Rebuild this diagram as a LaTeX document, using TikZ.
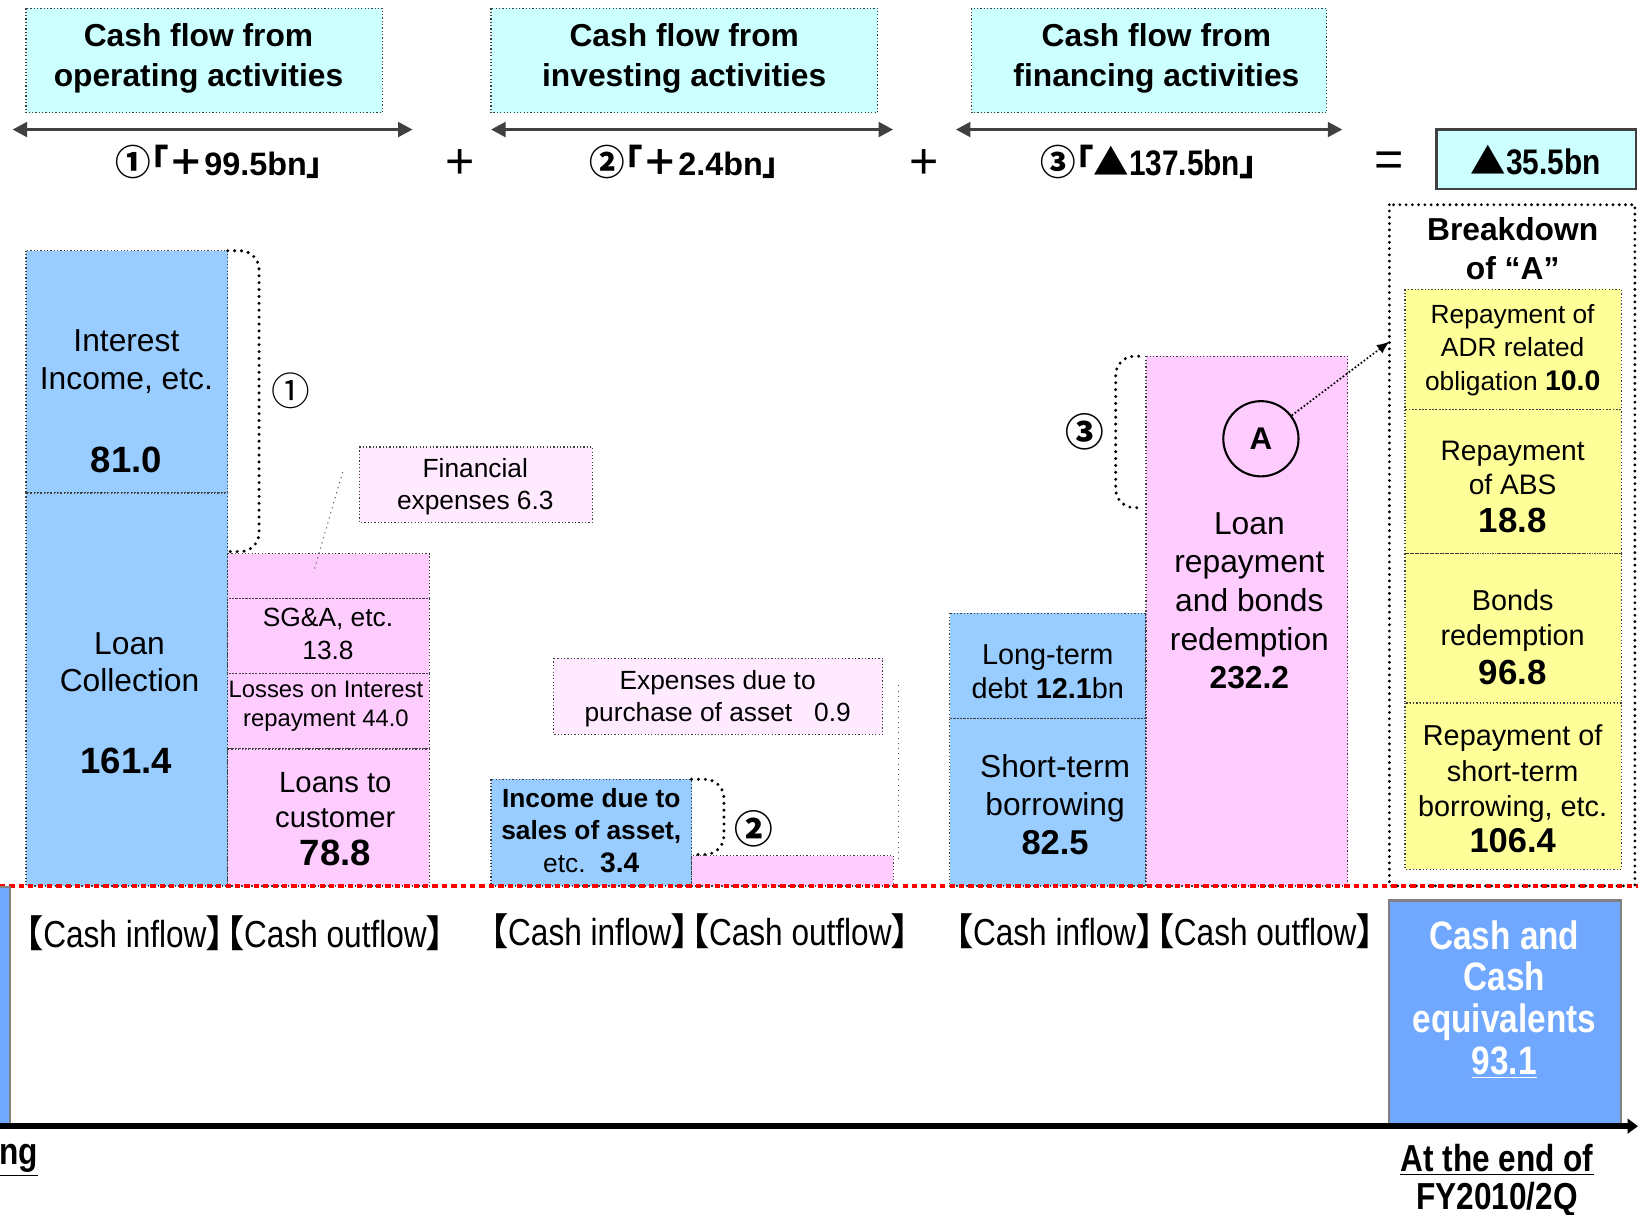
\documentclass[tikz,border=0pt]{standalone}
\usepackage{fontspec}
\setmainfont{Liberation Sans}
\newfontfamily\cjk{Noto Sans CJK JP}[RawFeature=+palt]
\newfontfamily\narrow{Liberation Sans}[FakeStretch=0.84]
\usetikzlibrary{arrows.meta}
\definecolor{hdrcyan}{RGB}{204,255,255}
\definecolor{inblue}{RGB}{153,204,255}
\definecolor{outpink}{RGB}{255,204,255}
\definecolor{notepink}{RGB}{255,234,255}
\definecolor{brkyellow}{RGB}{255,255,153}
\definecolor{cashblue}{RGB}{112,168,255}
\definecolor{arrgray}{RGB}{64,64,64}
\newcommand\fsz[2]{\fontsize{#1pt}{#2pt}\selectfont}

\begin{document}
\begin{tikzpicture}[x=0.5pt,y=-0.5pt,
  bar/.style={draw=black!75,densely dotted,line width=0.6pt},
  inbar/.style={bar,fill=inblue},
  outbar/.style={bar,fill=outpink},
  notebox/.style={bar,fill=notepink},
  hdrbox/.style={bar,fill=hdrcyan},
  brkbox/.style={bar,fill=brkyellow},
  txt/.style={align=center,inner sep=0pt},
  spanarrow/.style={draw=arrgray,line width=1.6pt,{Triangle[length=7pt,width=7pt]}-{Triangle[length=7pt,width=7pt]}},
  brace/.style={line width=1.6pt,dash pattern=on 0pt off 3.3pt,line cap=round,rounded corners=9pt},
  bigdots/.style={line width=1.5pt,dash pattern=on 0pt off 3pt,line cap=round},
  lead/.style={draw=black!70,dotted,line width=0.5pt}]
  \useasboundingbox (0,0) rectangle (1568,1163);

  \draw[hdrbox] (25,8) rectangle (366,108);
  \draw[hdrbox] (470,8) rectangle (840,108);
  \draw[hdrbox] (930,8) rectangle (1270,108);
  \node[txt,font=\bfseries\fsz{15.2}{19}] (hdrop) at (190,56) {Cash flow from\\operating activities};
  \node[txt,font=\bfseries\fsz{15.2}{19}] (hdrinv) at (655,56) {Cash flow from\\investing activities};
  \node[txt,font=\bfseries\fsz{15.2}{19}] (hdrfin) at (1107,56) {Cash flow from\\financing activities};

  \coordinate (op-l) at (12,124);   \coordinate (op-r) at (395,124);
  \coordinate (inv-l) at (470,124); \coordinate (inv-r) at (855,124);
  \coordinate (fin-l) at (915,124); \coordinate (fin-r) at (1285,124);
  \draw[spanarrow] (op-l) -- (op-r);
  \draw[spanarrow] (inv-l) -- (inv-r);
  \draw[spanarrow] (fin-l) -- (fin-r);

  \node[font=\bfseries\fsz{15.5}{18}] (cf1) at (210,155) {{\cjk\fsz{17}{18}①「＋}99.5bn{\cjk 」}};
  \node[font=\fsz{24}{26}] (plus1) at (440,157) {+};
  \node[font=\bfseries\fsz{15.5}{18}] (cf2) at (655,155) {{\cjk\fsz{17}{18}②「＋}2.4bn{\cjk 」}};
  \node[font=\fsz{24}{26}] (plus2) at (885,157) {+};
  \node[font=\narrow\bfseries\fsz{17}{19}] (cf3) at (1100,155) {{\cjk ③「▲}137.5bn{\cjk 」}};
  \node[font=\fsz{24}{26}] (eqsign) at (1330,157) {=};
  \draw[fill=hdrcyan,draw=arrgray,line width=1.2pt] (1375,124) rectangle (1566,181);
  \node[font=\narrow\bfseries\fsz{17}{19}] (netamt) at (1470,153) {{\cjk ▲}35.5bn};

  % operating
  \draw[inbar] (25,240) rectangle (218,472);
  \draw[inbar] (25,472) rectangle (218,848);
  \node[txt,font=\fsz{15.2}{18.5}] (intinc) at (121,346) {Interest\\Income, etc.};
  \node[txt,font=\bfseries\fsz{17.5}{20}] (intamt) at (121,440) {81.0};
  \node[txt,font=\fsz{15.2}{18}] (loancol) at (124,634) {Loan\\Collection};
  \node[txt,font=\bfseries\fsz{17.5}{20}] (loanamt) at (121,728) {161.4};
  \draw[outbar] (218,530) rectangle (411,573);
  \draw[outbar] (218,573) rectangle (411,645);
  \draw[outbar] (218,645) rectangle (411,717);
  \draw[outbar] (218,717) rectangle (411,848);
  \node[txt,font=\fsz{12.6}{15.5}] (sga) at (314,607) {SG\&A, etc.\\13.8};
  \node[txt,font=\fsz{11.4}{13.5}] (losses) at (312,676) {Losses on Interest\\repayment 44.0};
  \node[txt,font=\fsz{14}{17}] (loancust) at (321,784) {Loans to\\customer\\[1pt]{\bfseries\fsz{17.5}{19}78.8}};
  \draw[brace] (218,240) -- (248,240) -- (248,528) -- (218,528);
  \node[font=\fsz{18.5}{20}] (mark1) at (278,374) {\cjk ①};
  \draw[notebox] (344,428) rectangle (567,500);
  \node[txt,font=\fsz{12.6}{15.5}] (finexp) at (455,466) {Financial\\expenses 6.3};
  \coordinate (fe-a) at (328,452);
  \coordinate (fe-b) at (300,548);
  \draw[lead] (fe-a) -- (fe-b);

  % investing
  \draw[inbar] (470,746) rectangle (662,848);
  \node[txt,font=\fsz{12.6}{15.5}] (incsale) at (566,795) {{\bfseries Income due to}\\{\bfseries sales of asset,}\\etc.\ \ {\bfseries\fsz{13.5}{15.5}3.4}};
  \draw[outbar] (662,819) rectangle (855,848);
  \draw[brace] (662,746) -- (693,746) -- (693,818) -- (662,818);
  \node[font=\bfseries\fsz{18.5}{20}] (mark2) at (722,793) {\cjk ②};
  \draw[notebox] (530,630) rectangle (845,703);
  \node[txt,font=\fsz{12.6}{15.5}] (purexp) at (687,669) {Expenses due to\\purchase of asset\ \ \ 0.9};
  \coordinate (pe-a) at (860,656);
  \coordinate (pe-b) at (860,825);
  \draw[lead] (pe-a) -- (pe-b);

  % financing
  \draw[inbar] (909,587) rectangle (1097,688);
  \draw[inbar] (909,688) rectangle (1097,848);
  \draw[outbar] (1097,341) rectangle (1290,848);
  \node[txt,font=\fsz{13.8}{16.5}] (ltdebt) at (1003,643) {Long-term\\debt {\bfseries 12.1}bn};
  \node[txt,font=\fsz{15.2}{18.5}] (stborrow) at (1010,770) {Short-term\\borrowing\\{\bfseries\fsz{16.5}{18.5}82.5}};
  \node[txt,font=\fsz{15.2}{18.5}] (loanrep) at (1196,575) {Loan\\repayment\\and bonds\\redemption\\{\bfseries 232.2}};
  \node[circle,draw,line width=1pt,minimum size=36pt,inner sep=0pt,font=\bfseries\fsz{15}{18}] (markA) at (1207,420) {A};
  \draw[brace] (1090,341) -- (1068,341) -- (1068,486) -- (1090,486);
  \node[font=\bfseries\fsz{18.5}{20}] (mark3) at (1038,413) {\cjk ③};

  % breakdown of A
  \draw[bigdots] (1330,196) rectangle (1565,848);
  \node[txt,font=\bfseries\fsz{15.2}{18.5}] (brkttl) at (1448,238) {Breakdown\\of “A”};
  \coordinate (brkin) at (1330,327);
  \draw[densely dotted,line width=0.8pt,-{Latex[length=6pt,width=5pt]}] (markA) -- (brkin);
  \draw[brkbox] (1345,277) rectangle (1552,392);
  \draw[brkbox] (1345,392) rectangle (1552,530);
  \draw[brkbox] (1345,530) rectangle (1552,673);
  \draw[brkbox] (1345,673) rectangle (1552,832);
  \node[txt,font=\fsz{12.6}{16}] (adr) at (1448,335) {Repayment of\\ADR related\\obligation {\bfseries\fsz{13.6}{16}10.0}};
  \node[txt,font=\fsz{13.5}{16.5}] (abs) at (1448,466) {Repayment\\of ABS\\[1.5pt]{\bfseries\fsz{16.7}{18}18.8}};
  \node[txt,font=\fsz{13.8}{17}] (bonds) at (1448,610) {Bonds\\redemption\\[1.5pt]{\bfseries\fsz{16.7}{18}96.8}};
  \node[txt,font=\fsz{13.8}{17}] (strepay) at (1448,755) {Repayment of\\short-term\\borrowing, etc.\\{\bfseries\fsz{16.5}{18}106.4}};

  % baseline and end balance
  \coordinate (red-l) at (0,848);
  \coordinate (red-r) at (1568,848);
  \draw[red,line width=1.8pt,dash pattern=on 2.5pt off 2pt] (red-l) -- (red-r);
  \node[font=\narrow\fsz{18}{20}] (flow1) at (225,893) {{\cjk 【}Cash inflow{\cjk 】【}Cash outflow{\cjk 】}};
  \node[font=\narrow\fsz{18}{20}] (flow2) at (670,891) {{\cjk 【}Cash inflow{\cjk 】【}Cash outflow{\cjk 】}};
  \node[font=\narrow\fsz{18}{20}] (flow3) at (1115,891) {{\cjk 【}Cash inflow{\cjk 】【}Cash outflow{\cjk 】}};

  \fill[cashblue] (0,849) rectangle (10,1078);
  \draw[gray,line width=1pt] (0,849) -- (10,849) -- (10,1078);
  \draw[fill=cashblue,draw=gray,line width=1pt] (1330,862) rectangle (1552,1078);
  \node[txt,text=white,font=\narrow\bfseries\fsz{19}{20}] (cashamt) at (1440,957) {Cash and\\Cash\\equivalents\\\underline{93.1}};

  \coordinate (ax-l) at (0,1078);
  \coordinate (ax-r) at (1568,1078);
  \draw[line width=2.6pt,-{Triangle[length=5pt,width=7pt]}] (ax-l) -- (ax-r);
  \node[anchor=west,inner sep=0pt,font=\narrow\bfseries\fsz{18}{20}] (ngtail) at (-1,1111) {\underline{ng}};
  \node[txt,font=\narrow\bfseries\fsz{18}{18.5}] (fyend) at (1433,1132) {\underline{At the end of}\\\underline{FY2010/2Q}};
\end{tikzpicture}
\end{document}
